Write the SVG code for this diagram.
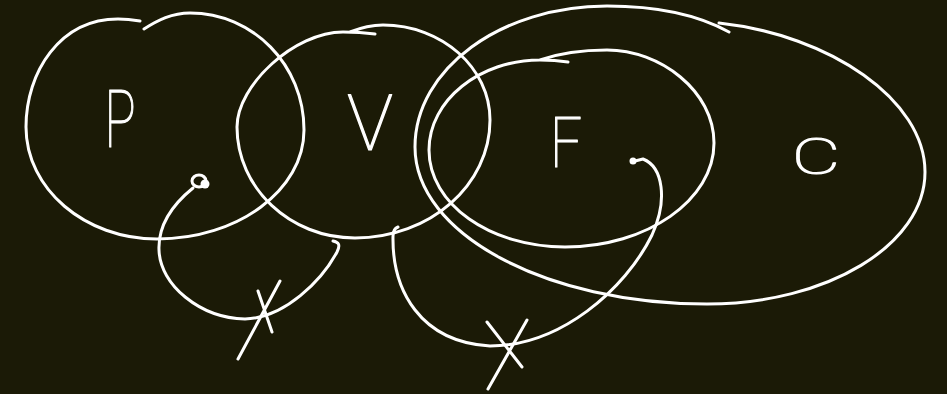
<svg xmlns="http://www.w3.org/2000/svg" width="947" height="394" viewBox="0 0 947 394">
<style>
.ink{fill:none;stroke:#ffffff;stroke-width:3;stroke-linecap:round;stroke-linejoin:round}
.dot{fill:#ffffff;stroke:none}
.lbl{fill:#ffffff;stroke:#ffffff;stroke-width:1.2;stroke-linejoin:round;font-family:"Roboto","Liberation Sans",sans-serif;font-weight:100;text-anchor:middle}
</style>
<rect width="947" height="394" fill="#1b1a06"/>
<g id="node-C">
<path class="ink" d="M719,23 C830,35 925,100 925,172 C925,245 827,304 707,304 C546,304 415,234 415,147 C415,69 501,6 607,6 C660,6 700,16 729,32"/>
<text class="lbl" font-size="50" transform="translate(816,174) scale(1.5,1)">C</text>
</g>
<g id="node-P">
<path class="ink" d="M144,29 C158,20 172,13 190,13 C253,13 304,65 304,130 C304,190 238,239 157,239 C85,239 26,189 26,127 C26,72 60,19 118,19 C126,19 134,20 140,21"/>
<text class="lbl" font-size="80" transform="translate(120,147) scale(0.65,1)">P</text>
</g>
<g id="node-V">
<path class="ink" d="M350,32 C360,28 372,25 383,25 C442,25 490,68 490,120 C490,185 430,238 355,238 C290,238 237,188 237,127 C237,85 295,32 343,32 Q360,32 375,34"/>
<text class="lbl" font-size="77" transform="translate(370,150)">V</text>
</g>
<g id="node-F">
<path class="ink" d="M540,60 C560,53 585,50 607,50 C660,50 714,91 714,143 C714,200 647,247 565,247 C490,247 429,204 429,150 C429,100 480,60 540,60 Q555,60 568,62"/>
<text class="lbl" font-size="70" transform="translate(566,167) scale(0.8,1)">F</text>
</g>
<g id="connectors">
<ellipse class="ink" cx="199" cy="181" rx="7" ry="6"/>
<circle class="dot" cx="205" cy="184" r="4.5"/>
<path class="ink" d="M193,188 C172,205 158,225 159,250 C160,285 200,318 245,319 C285,318 322,280 337,252 C341,244 338,242 333,241"/>
<path class="ink" d="M280,281 L238,359 M258,291 L272,332"/>
<path class="ink" d="M398,227 Q393,229 393,236 C392,290 420,342 490,346 C560,346 625,290 652,235 C668,200 663,167 643,159 L635,161"/>
<circle class="dot" cx="633" cy="161" r="3.5"/>
<path class="ink" d="M527,320 L488,389 M487,322 L522,367"/>
</g>
</svg>
